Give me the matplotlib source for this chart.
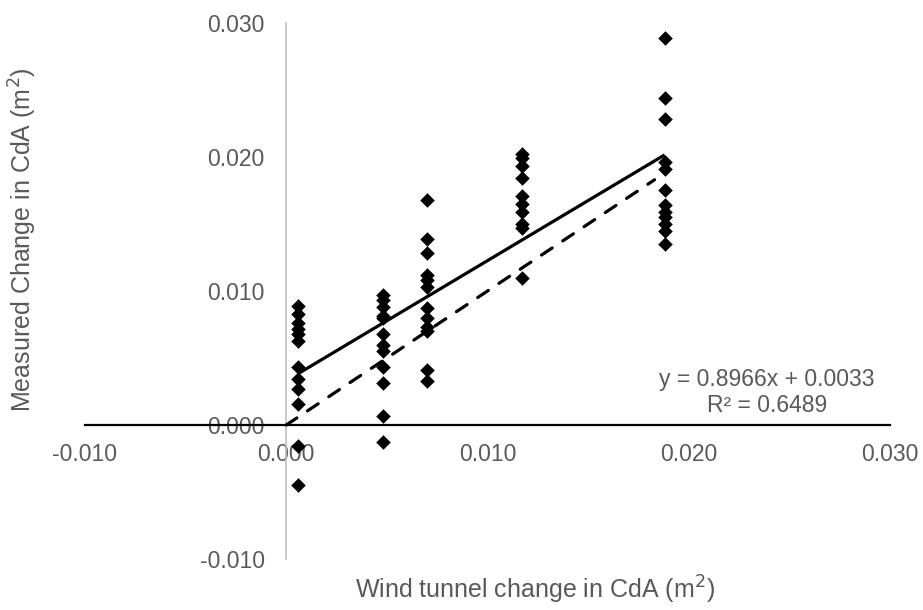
import matplotlib
matplotlib.use("Agg")
import matplotlib.pyplot as plt
import numpy as np

plt.rcParams['font.family'] = ['Liberation Sans', 'DejaVu Sans']

# Wind tunnel change in CdA (x) for each group of measurements
group_x = [0.0006, 0.0048, 0.0070, 0.0117, 0.0188]
# Measured change in CdA (y) per group
group_y = [
    [0.0089, 0.0083, 0.0076, 0.0072, 0.0068, 0.0063, 0.0043, 0.0034, 0.0027, 0.0016, -0.0016, -0.0045],
    [0.0097, 0.0093, 0.0088, 0.0081, 0.0080, 0.0068, 0.0060, 0.0055, 0.0043, 0.0031, 0.0007, -0.0013],
    [0.0168, 0.0139, 0.0128, 0.0112, 0.0108, 0.0103, 0.0087, 0.0080, 0.0073, 0.0070, 0.0041, 0.0033],
    [0.0202, 0.0199, 0.0193, 0.0184, 0.0171, 0.0165, 0.0159, 0.0150, 0.0147, 0.0110],
    [0.0289, 0.0244, 0.0228, 0.0196, 0.0191, 0.0175, 0.0164, 0.0159, 0.0155, 0.0150, 0.0145, 0.0135],
]
slope = 0.8966
intercept = 0.0033
r2 = 0.6489
identity_end = 0.0183

xticks = [-0.010, 0.000, 0.010, 0.020, 0.030]
yticks = [-0.010, 0.000, 0.010, 0.020, 0.030]

xs = np.concatenate([[gx] * len(gy) for gx, gy in zip(group_x, group_y)])
ys = np.concatenate(group_y)

fig = plt.figure(figsize=(9.23, 6.10), dpi=100)
ax = fig.add_axes([85 / 923, 1 - 559 / 610, 805 / 923, 536 / 610])
ax.set_xlim(-0.010, 0.030)
ax.set_ylim(-0.010, 0.030)

# trend line
tx = np.array([min(group_x), max(group_x)])
ax.plot(tx, slope * tx + intercept, color='black', lw=2.3, zorder=3, solid_capstyle='butt')
# identity line
ix = np.array([0.0, identity_end])
ax.plot(ix, ix, color='black', lw=2.3, ls=(0, (4, 4)), zorder=3, dash_capstyle='round')

ax.scatter(xs, ys, marker='D', s=55, color='black', zorder=4, linewidths=0)

for s in ['top', 'right']:
    ax.spines[s].set_visible(False)
ax.spines['left'].set_position(('data', 0))
ax.spines['bottom'].set_position(('data', 0))
ax.spines['left'].set_color('#bfbfbf')
ax.spines['left'].set_linewidth(1.2)
ax.spines['bottom'].set_color('black')
ax.spines['bottom'].set_linewidth(1.6)
ax.spines['bottom'].set_zorder(5)

ax.set_xticks(xticks)
ax.set_yticks(yticks)
ax.set_xticklabels([f"{v:.3f}" for v in xticks])
ax.set_yticklabels([f"{v:.3f}" for v in yticks])
ax.tick_params(axis='x', length=0, labelsize=16.5, labelcolor='#595959', pad=13)
ax.tick_params(axis='y', length=0, labelsize=16.5, labelcolor='#595959', pad=15.5)
for lbl in ax.get_xticklabels() + ax.get_yticklabels():
    lbl.set_zorder(1)

fig.text(535 / 923, 1 - 590 / 610, 'Wind tunnel change in CdA (m$^{2}$)', ha='center', va='center',
         fontsize=18, color='#595959')
fig.text(23 / 923, 1 - 240 / 610, 'Measured Change in CdA (m$^{2}$)', ha='center', va='center',
         rotation=90, fontsize=18, color='#595959')

ax.text(0.02388, 0.00336, f"y = {slope}x + {intercept}", ha='center', va='center',
        fontsize=16.5, color='#595959')
ax.text(0.02388, 0.00142, f"R² = {r2}", ha='center', va='center',
        fontsize=16.5, color='#595959')

fig.savefig('out.png', dpi=100)
